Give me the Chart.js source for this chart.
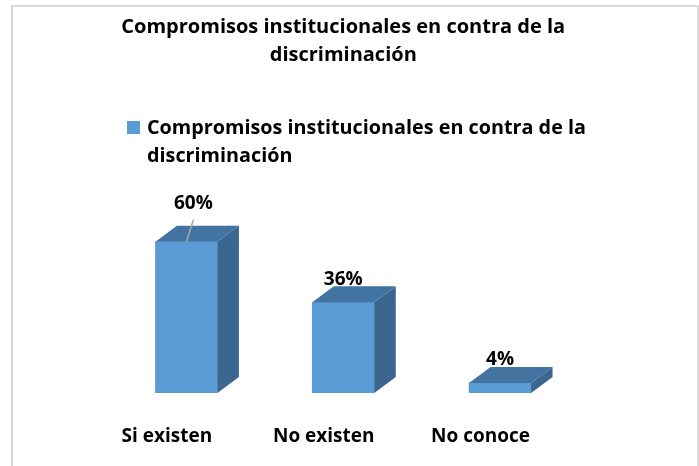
<!DOCTYPE html>
<html>
<head>
<meta charset="utf-8">
<script src="https://cdn.jsdelivr.net/npm/chart.js@4"></script>
<style>
  body { margin: 0; background: #fff; }
  .frame {
    position: absolute; left: 11px; top: 5px; width: 684px; height: 480px;
    border: 2px solid #d9d9d9; border-bottom: none;
  }
  .wrap { position: absolute; left: 0; top: 0; width: 699px; height: 466px; }
</style>
</head>
<body>
<div class="frame"></div>
<div class="wrap"><canvas id="chart"></canvas></div>
<script>
const categories = ['Si existen', 'No existen', 'No conoce'];
const values = [60, 36, 4];
const seriesName = 'Compromisos institucionales en contra de la discriminación';
const titleLines = ['Compromisos institucionales en contra de la', 'discriminación'];
const legendLines = ['Compromisos institucionales en contra de la', 'discriminación'];

const FRONT = '#5b9bd5';
const TOP = '#4273a1';
const SIDE = '#3a6690';
const FONT = "'Open Sans', sans-serif";

Chart.defaults.font.family = FONT;
Chart.defaults.color = '#000';

// fake 3d: top and side faces from each bar's own geometry, plus value labels
const bar3d = {
    id: 'bar3d',
    afterDatasetsDraw(chart, args, opts) {
        const ctx = chart.ctx;
        const meta = chart.getDatasetMeta(0);
        const dx = opts.dx, dy = opts.dy;
        ctx.save();
        meta.data.forEach((bar) => {
            const { x, y, base, width } = bar.getProps(['x', 'y', 'base', 'width'], true);
            const l = x - width / 2, r = x + width / 2;
            ctx.fillStyle = SIDE;
            ctx.beginPath();
            ctx.moveTo(r, y);
            ctx.lineTo(r + dx, y - dy);
            ctx.lineTo(r + dx, base - dy);
            ctx.lineTo(r, base);
            ctx.closePath();
            ctx.fill();
            ctx.fillStyle = TOP;
            ctx.beginPath();
            ctx.moveTo(l, y);
            ctx.lineTo(l + dx, y - dy);
            ctx.lineTo(r + dx, y - dy);
            ctx.lineTo(r, y);
            ctx.closePath();
            ctx.fill();
        });
        ctx.restore();
    },
    afterDraw(chart, args, opts) {
        const ctx = chart.ctx;
        const meta = chart.getDatasetMeta(0);
        const ds = chart.data.datasets[0];
        ctx.save();
        ctx.font = 'bold 19px ' + FONT;
        ctx.textAlign = 'center';
        ctx.textBaseline = 'middle';
        ctx.fillStyle = '#000';
        meta.data.forEach((bar, i) => {
            const shift = opts.labelShift[i] || [0, 0];
            const lx = bar.x + shift[0];
            const ly = bar.y - 23 + shift[1];
            if (shift[1] !== 0) {
                ctx.strokeStyle = '#a6a6a6';
                ctx.lineWidth = 1.5;
                ctx.beginPath();
                ctx.moveTo(lx, ly + 16);
                ctx.lineTo(bar.x, bar.y);
                ctx.stroke();
            }
            ctx.fillText(ds.data[i] + '%', lx, ly);
        });

        // legend
        ctx.fillStyle = ds.backgroundColor;
        ctx.fillRect(127, 121, 13, 13);
        ctx.fillStyle = '#000';
        ctx.textAlign = 'left';
        ctx.font = 'bold 19.8px ' + FONT;
        legendLines.forEach((line, i) => ctx.fillText(line, 147, 128 + i * 28));
        ctx.restore();
    }
};

new Chart(document.getElementById('chart'), {
    type: 'bar',
    data: {
        labels: categories,
        datasets: [{
            label: seriesName,
            data: values,
            backgroundColor: FRONT,
            borderWidth: 0,
            barThickness: 62
        }]
    },
    plugins: [bar3d],
    options: {
        responsive: true,
        maintainAspectRatio: false,
        animation: false,
        layout: { padding: { left: 108, right: 120.5, top: 0, bottom: 18 } },
        plugins: {
            legend: { display: false },
            tooltip: { enabled: false },
            title: {
                display: true,
                text: titleLines,
                color: '#000',
                font: { size: 20, weight: 'bold', lineHeight: 1.4 },
                padding: { top: 13, bottom: 147.5 }
            },
            bar3d: { dx: 21.5, dy: 16, labelShift: [[7, -15], [0, 0], [0, 0]] }
        },
        scales: {
            x: {
                grid: { display: false, drawTicks: false },
                border: { display: false },
                ticks: {
                    color: '#000',
                    font: { size: 19, weight: 'bold' },
                    padding: 32,
                    labelOffset: -19.5,
                    maxRotation: 0,
                    autoSkip: false
                },
                afterFit: (scale) => { scale.height = 55; }
            },
            y: {
                display: false,
                min: 0,
                max: 70
            }
        }
    }
});
</script>
</body>
</html>
